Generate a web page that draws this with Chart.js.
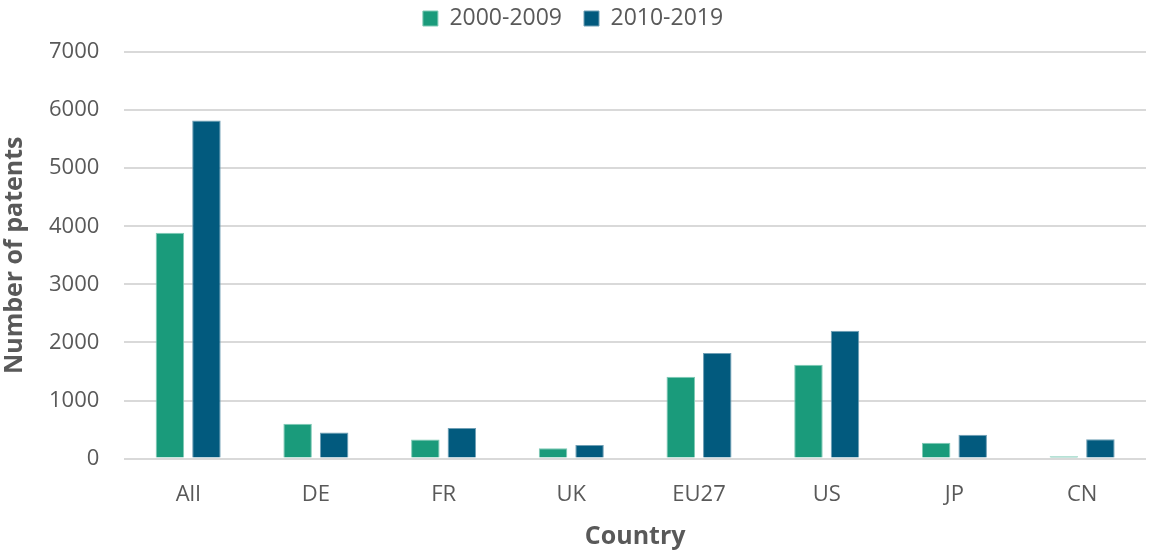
<!DOCTYPE html>
<html>
<head>
<meta charset="utf-8">
<script src="https://cdn.jsdelivr.net/npm/chart.js@4.4.0/dist/chart.umd.min.js"></script>
<style>
  html, body { margin: 0; padding: 0; background: #fff; }
  #wrap { width: 1150px; height: 550px; }
</style>
</head>
<body>
<div id="wrap"><canvas id="chart"></canvas></div>
<script>
// 데이터
const countries = ['All', 'DE', 'FR', 'UK', 'EU27', 'US', 'JP', 'CN'];
const patents2000s = [3890, 600, 330, 180, 1410, 1615, 275, 40];
const patents2010s = [5820, 450, 525, 235, 1820, 2200, 410, 335];
const yTicks = [0, 1000, 2000, 3000, 4000, 5000, 6000, 7000];

const textColor = '#595959';
const fontFamily = "'Open Sans', 'Noto Sans', sans-serif";

// 범례 아래 여백을 늘리는 플러그인
const legendGap = {
    id: 'legendGap',
    beforeInit(chart) {
        const origFit = chart.legend.fit;
        chart.legend.fit = function() {
            origFit.bind(chart.legend)();
            this.height += 12;
        };
    }
};

const ctx = document.getElementById('chart').getContext('2d');
new Chart(ctx, {
    type: 'bar',
    data: {
        labels: countries,
        datasets: [{
            label: '2000-2009',
            data: patents2000s,
            backgroundColor: '#1a9b7b',
            borderColor: '#7fcab5',
            borderWidth: 1,
            categoryPercentage: 0.572,
            barPercentage: 0.78
        }, {
            label: '2010-2019',
            data: patents2010s,
            backgroundColor: '#025a7e',
            borderColor: '#6f9fb5',
            borderWidth: 1,
            categoryPercentage: 0.572,
            barPercentage: 0.78
        }]
    },
    plugins: [legendGap],
    options: {
        responsive: true,
        maintainAspectRatio: false,
        animation: false,
        layout: { padding: { left: 0, right: 4, top: -15, bottom: -2 } },
        plugins: {
            legend: {
                position: 'top',
                labels: {
                    boxWidth: 15,
                    boxHeight: 15,
                    padding: 22,
                    color: textColor,
                    font: { family: fontFamily, size: 23 }
                }
            },
            tooltip: { enabled: false }
        },
        scales: {
            x: {
                grid: { display: false, drawTicks: false },
                border: { display: false },
                ticks: {
                    color: textColor,
                    padding: 23,
                    font: { family: fontFamily, size: 22 }
                },
                title: {
                    display: true,
                    text: 'Country',
                    color: textColor,
                    padding: { top: -9, bottom: 0 },
                    font: { family: fontFamily, size: 25, weight: 'bold' }
                }
            },
            y: {
                min: 0,
                max: 7000,
                afterBuildTicks: axis => {
                    axis.ticks = yTicks.map(v => ({ value: v }));
                },
                grid: { color: '#d9d9d9', lineWidth: 2, drawTicks: false },
                border: { display: false },
                ticks: {
                    color: textColor,
                    padding: 25,
                    font: { family: fontFamily, size: 22 },
                    callback: v => String(v)
                },
                title: {
                    display: true,
                    text: 'Number of patents',
                    color: textColor,
                    padding: { top: 0, bottom: -6 },
                    font: { family: fontFamily, size: 25, weight: 'bold' }
                }
            }
        }
    }
});
</script>
</body>
</html>
